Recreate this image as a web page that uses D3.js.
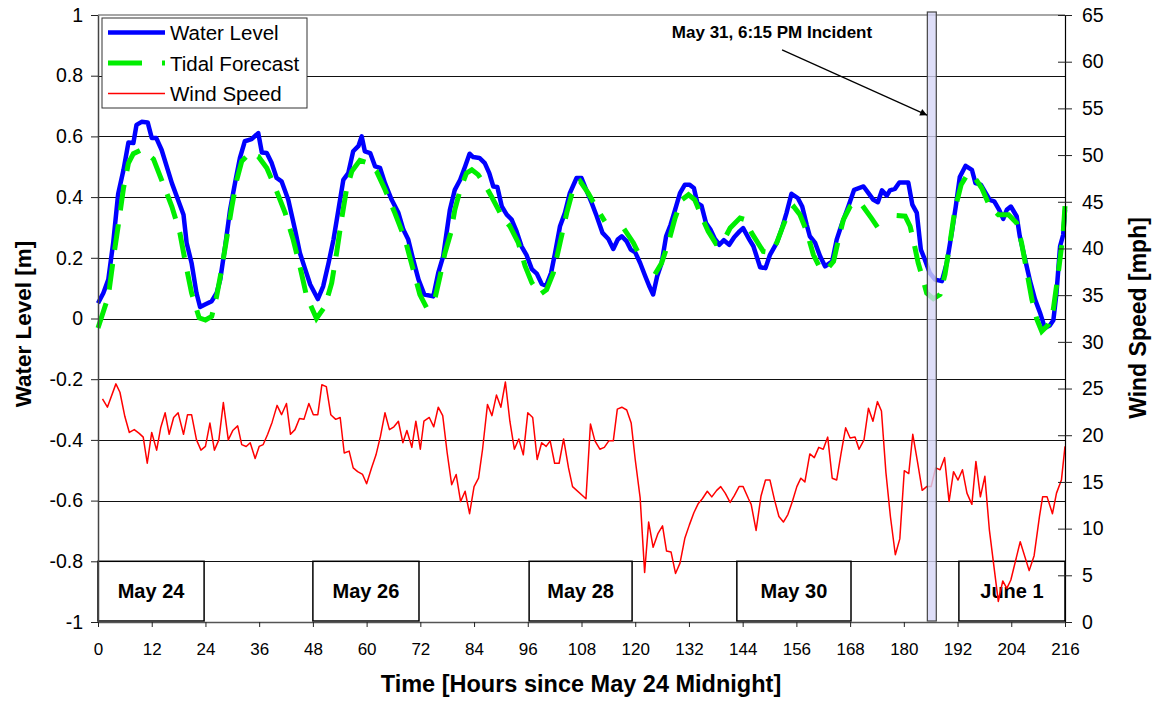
<!DOCTYPE html>
<html>
<head>
<meta charset="utf-8">
<script src="https://cdn.jsdelivr.net/npm/d3@7"></script>
<style>
  body { margin: 0; background: #fff; }
  svg { font-family: "Liberation Sans", Arial, sans-serif; }
</style>
</head>
<body>
<svg id="chart" width="1156" height="702"></svg>
<script>
// --- data (hours since May 24 midnight) ---
const waterLevel = [
  [0,0.05],[1.2,0.084],[2.3,0.128],[3.4,0.25],[4.5,0.41],[5.7,0.49],[6.8,0.58],[7.9,0.578],[8.6,0.638],[9.75,0.648],
  [11.1,0.646],[12,0.595],[13,0.595],[14.2,0.556],[16.5,0.446],[19.1,0.342],[19.8,0.249],[20.9,0.183],[22,0.084],[22.8,0.038],
  [23.9,0.046],[25.4,0.057],[26.5,0.084],[27.3,0.128],[28.4,0.238],[29.5,0.358],[30.6,0.446],[31.7,0.529],[32.8,0.584],[34.3,0.591],
  [35.8,0.611],[36.6,0.547],[37.7,0.545],[38.8,0.512],[39.9,0.463],[41,0.452],[42.5,0.391],[44,0.293],[45.1,0.216],[46.2,0.166],
  [47.4,0.112],[49.1,0.064],[50.3,0.106],[51.5,0.183],[52.6,0.26],[53.7,0.358],[54.8,0.457],[55.9,0.479],[57,0.551],[58.2,0.569],
  [58.9,0.6],[59.6,0.551],[60.8,0.545],[61.9,0.501],[63,0.496],[64.1,0.446],[65.6,0.391],[67.1,0.348],[68.2,0.293],[69.3,0.26],
  [70.4,0.194],[71.6,0.128],[72.9,0.079],[74.9,0.073],[76,0.15],[77.1,0.205],[78.6,0.358],[79.7,0.424],[80.9,0.457],[82,0.501],
  [83,0.543],[83.8,0.532],[85.2,0.529],[86.4,0.512],[87.4,0.479],[88.3,0.435],[89.2,0.433],[90.2,0.369],[91.3,0.342],[92.4,0.326],
  [93.5,0.287],[94.6,0.238],[95.7,0.21],[96.9,0.163],[98,0.148],[99.1,0.114],[100.1,0.108],[101.2,0.15],[102.1,0.216],[103.2,0.304],
  [104.3,0.348],[105.4,0.413],[106.9,0.463],[108,0.463],[109.2,0.419],[110.3,0.38],[111.4,0.337],[112.7,0.282],[114,0.262],[115.1,0.229],
  [116.1,0.26],[117,0.271],[118.1,0.254],[119,0.227],[120,0.218],[121.1,0.183],[122.2,0.141],[123.1,0.108],[124,0.079],[124.9,0.139],
  [125.9,0.183],[126.9,0.271],[127.9,0.309],[128.9,0.358],[130,0.413],[131.1,0.441],[132.1,0.441],[133.1,0.43],[133.9,0.38],[134.8,0.372],
  [135.8,0.315],[136.8,0.293],[137.8,0.262],[138.8,0.243],[139.8,0.258],[141,0.243],[142.1,0.268],[143.3,0.287],[144.1,0.298],[145.5,0.26],
  [146.4,0.238],[147.9,0.169],[149.1,0.166],[150.1,0.21],[151.6,0.249],[152.7,0.293],[153.8,0.348],[154.9,0.411],[156.3,0.397],[157.3,0.369],
  [158.3,0.309],[159,0.271],[160.2,0.249],[161.3,0.205],[162.4,0.172],[164,0.188],[165,0.26],[166.1,0.309],[167.6,0.369],[168.9,0.424],
  [171,0.435],[172.1,0.413],[173.2,0.391],[174.2,0.383],[175.1,0.422],[176.2,0.405],[176.9,0.422],[178,0.427],[179,0.448],[181,0.448],
  [181.9,0.375],[182.9,0.348],[183.8,0.227],[184.7,0.194],[185.8,0.15],[187,0.128],[188.5,0.123],[189.6,0.183],[190.7,0.282],[191.6,0.369],
  [192.5,0.466],[193.8,0.503],[195.2,0.49],[196,0.446],[197.2,0.441],[198.3,0.413],[199.2,0.391],[200.2,0.386],[201.3,0.358],[202.2,0.328],
  [203,0.358],[203.9,0.369],[205.2,0.337],[205.9,0.271],[207.1,0.194],[208.2,0.123],[209.3,0.063],[210.4,0.02],[211.5,-0.031],[212.6,-0.023],
  [213.4,-0.006],[214.1,0.084],[214.9,0.238],[215.6,0.276],[216,0.358]
];

// null entries are gaps in the forecast series
const tidalForecast = [
  [0,-0.031],[2.3,0.073],[3.4,0.194],[4.5,0.304],[5.7,0.43],[6.8,0.512],[7.9,0.543],[9.4,0.554],[10.9,0.545],[12.4,0.525],
  [14.2,0.457],[16.5,0.369],[18.3,0.281],[19.4,0.194],[20.9,0.084],[22.6,0.002],[24,-0.005],[25.4,0.007],[26.5,0.073],[27.6,0.161],
  [28.7,0.26],[29.9,0.369],[31,0.457],[32.1,0.518],[33.9,0.545],[35.8,0.534],[37.7,0.496],[39.5,0.435],[41.8,0.348],[43.6,0.26],
  [45.1,0.172],[46.6,0.073],[48.8,0.0],[50.7,0.04],[52.2,0.117],[53.3,0.216],[54.4,0.326],[55.5,0.425],[56.7,0.485],[58.5,0.521],
  [60.4,0.512],[62.2,0.485],[64.1,0.425],[66.3,0.348],[68.6,0.26],[70.4,0.161],[71.9,0.079],[73.4,0.036],[75.3,0.068],[76.4,0.139],
  [77.5,0.216],[78.8,0.282],[79.7,0.358],[80.9,0.424],[82.3,0.479],[83.5,0.49],[84.9,0.474],[86.4,0.441],[87.9,0.402],[90.2,0.337],
  [92,0.304],[93.9,0.249],[95.4,0.173],[96.9,0.118],[98.7,0.079],[100.2,0.095],[101.7,0.15],[103.2,0.249],[104.7,0.348],[106.2,0.43],
  [107.7,0.452],[109.5,0.413],[111.4,0.364],[113.2,0.32],null,[117.5,0.295],[119.6,0.249],[121.2,0.2],null,[124.4,0.146],
  [125.9,0.183],[127.4,0.249],[128.9,0.331],[130.4,0.391],[131.9,0.408],[133.3,0.391],[134.8,0.337],[136.3,0.287],[138,0.247],[139.5,0.25],
  [141.2,0.298],[143.4,0.331],[144.5,0.326],[146,0.282],[148.6,0.221],[150.1,0.218],[151.6,0.249],[152.7,0.293],[154.2,0.348],[155.5,0.367],
  [156.8,0.342],[158.3,0.287],[159.8,0.21],[161.3,0.166],[162.8,0.161],[164.3,0.188],[165.4,0.26],[166.5,0.326],[168,0.369],[169.5,0.385],
  [170.6,0.375],[172.8,0.33],[175,0.282],null,[178.4,0.339],[180.3,0.337],[181.4,0.304],[182.1,0.26],[183.2,0.183],[184.3,0.128],
  [185.1,0.084],[186.6,0.065],[188.1,0.079],[189.2,0.146],[190.3,0.249],[191.4,0.358],[192.8,0.441],[194.3,0.477],[195.9,0.463],[197.4,0.43],
  [199.2,0.369],[201.1,0.342],[203.4,0.342],[205.2,0.315],[206.3,0.249],[207.4,0.161],[208.6,0.063],[209.7,-0.002],[210.8,-0.042],[212.3,-0.02],
  [213.4,0.031],[214.5,0.15],[215.6,0.282],[216,0.37]
];

const windSpeed = [
  [1,23.9],[2.1,23.0],[4,25.5],[4.9,24.6],[6,22.0],[7,20.3],[8.1,20.6],[9.2,20.2],[10.1,19.8],[11,17.0],
  [12,20.3],[13.1,18.4],[14,20.8],[15,22.4],[15.9,20.1],[16.9,21.9],[17.9,22.4],[19.1,20.1],[20,22.2],[20.9,22.2],
  [22,19.5],[23,18.4],[24,18.8],[25,21.3],[26,18.4],[27,19.5],[28,23.5],[29.1,19.5],[30.1,20.5],[31.2,21.0],
  [32.1,19.0],[33.1,18.8],[34,19.2],[35.1,17.5],[36,18.8],[36.9,19.0],[37.9,20.1],[38.9,21.4],[40,23.2],[41,22.2],
  [42.1,23.4],[43,20.1],[44,20.6],[45,21.8],[46,21.7],[47.1,23.4],[48.1,22.2],[49.1,22.2],[50,25.4],[51,25.2],
  [52,22.2],[53.1,21.7],[54.1,21.9],[55,18.1],[56.1,18.3],[57,16.5],[58,16.1],[59.1,15.8],[60,14.8],[61.1,16.5],
  [62.1,17.9],[63.1,19.9],[64.1,22.4],[65.1,20.6],[66.1,20.9],[67.1,21.5],[68.1,19.2],[69,20.5],[70.1,18.7],[71,21.5],
  [72,18.5],[72.8,21.5],[74,21.9],[75,20.9],[76,23.0],[77,22.1],[78,18.1],[79,14.7],[80,15.8],[81,12.9],
  [82,14.0],[83,11.6],[84,14.5],[85,15.4],[85.9,18.5],[87,23.3],[88,22.1],[89,24.3],[90,23.0],[91,25.7],
  [92,21.5],[93,18.5],[94,19.6],[95,17.9],[96,22.4],[97.1,21.9],[98.1,17.4],[99.1,19.2],[100.1,18.8],[101,19.4],
  [102,17.0],[103,17.0],[104,19.6],[105.1,16.5],[106,14.5],[109,13.2],[110,21.2],[111,19.4],[112.1,18.5],[113.1,18.7],
  [114.1,19.4],[115.1,19.4],[116,22.8],[117,23.0],[118.1,22.7],[119.1,21.3],[120,17.4],[121.1,13.3],[122.1,5.3],[123,10.7],
  [124,8.0],[125.1,9.5],[126.1,10.3],[127,7.6],[128,7.5],[129,5.2],[130,6.3],[131.1,9.0],[132.1,10.4],[133.1,11.7],
  [134.1,12.7],[135,13.2],[136.1,14.0],[137.1,13.4],[138.2,14.1],[139.1,14.5],[140.1,13.8],[141.2,12.8],[142.1,13.5],[143.2,14.5],
  [144.1,14.5],[145.3,13.2],[145.9,12.6],[147,9.8],[148.1,13.5],[149.1,15.2],[150.1,15.2],[151.1,13.1],[152.1,11.3],[153.1,10.7],
  [154.1,11.5],[155.1,12.9],[156.1,14.5],[157,15.4],[157.9,15.0],[159,18.0],[160,17.6],[161,18.7],[162,18.5],[163,19.8],
  [164,15.4],[165,15.2],[166,18.1],[167,20.8],[168,19.7],[169.1,19.8],[170,18.5],[171.1,19.5],[172.1,22.9],[173.1,21.5],
  [174.1,23.6],[175,22.6],[176,16.0],[177,11.3],[178.1,7.2],[179.1,8.9],[180.1,16.2],[181.1,15.9],[182,20.1],[183.1,17.0],
  [184.1,14.1],[185.1,14.5],[186.1,14.5],[187.1,16.5],[188.1,16.3],[189.1,17.6],[190.1,12.9],[191.1,16.1],[192.1,15.2],[193.1,16.3],
  [194.1,13.8],[195.2,12.6],[196.1,17.2],[197.1,13.4],[198.1,15.6],[199.1,9.9],[201.1,2.2],[202.1,4.4],[203,3.6],[203.9,4.5],
  [206,8.6],[208,5.5],[209.1,7.1],[210.3,11.3],[211,13.4],[212,13.4],[213.2,11.6],[214.1,13.8],[215.2,15.2],[216,18.8]
];

const hourTicks = d3.range(0, 217, 12);
const levelTicks = [-1, -0.8, -0.6, -0.4, -0.2, 0, 0.2, 0.4, 0.6, 0.8, 1];
const windTicks = d3.range(0, 66, 5);

// date labels drawn as boxes along the bottom: [label, startHour, endHour]
const dayBoxes = [
  ["May 24", 0, 23.7], ["May 26", 48, 71.7], ["May 28", 96.3, 119.3],
  ["May 30", 142.7, 168.2], ["June 1", 192.3, 216]
];

const incidentHour = 186.25;   // May 31, 6:15 PM
const incidentLabel = "May 31, 6:15 PM Incident";
// arrow from the label toward the incident bar, in [hour, level]
const arrowFrom = [152.8, 0.885], arrowTo = [185.2, 0.67];

const legendItems = [
  { name: "Water Level", color: "#0000ff", width: 4.5, dash: null },
  { name: "Tidal Forecast", color: "#00ee00", width: 5, dash: "34,20" },
  { name: "Wind Speed", color: "#ff0000", width: 1.5, dash: null }
];

// --- scales ---
const svg = d3.select("#chart");
const x = d3.scaleLinear().domain([0, 216]).range([98, 1065]);
const yL = d3.scaleLinear().domain([-1, 1]).range([622, 15]);
const yR = d3.scaleLinear().domain([0, 65]).range([622, 15]);

svg.append("rect").attr("width", 1156).attr("height", 702).attr("fill", "#fff");

// gridlines
svg.append("g").selectAll("line")
  .data(levelTicks.filter(d => d > -1 && d < 1))
  .join("line")
  .attr("x1", x(0)).attr("x2", x(216))
  .attr("y1", d => Math.round(yL(d)) + 0.5).attr("y2", d => Math.round(yL(d)) + 0.5)
  .attr("stroke", "#111").attr("stroke-width", 1);

// top border
svg.append("line")
  .attr("x1", x(0)).attr("x2", x(216))
  .attr("y1", yL(1)).attr("y2", yL(1))
  .attr("stroke", "#888").attr("stroke-width", 1.5);

// day boxes (under the series, the wind line runs across them)
const boxes = svg.append("g").selectAll("g").data(dayBoxes).join("g");
boxes.append("rect")
  .attr("x", d => x(d[1])).attr("width", d => x(d[2]) - x(d[1]))
  .attr("y", yL(-0.8)).attr("height", yL(-1) - yL(-0.8) - 1)
  .attr("fill", "#fff").attr("stroke", "#000").attr("stroke-width", 1.5);
boxes.append("text")
  .attr("x", d => (x(d[1]) + x(d[2])) / 2).attr("y", 598)
  .attr("text-anchor", "middle").attr("font-weight", "bold").attr("font-size", 20)
  .text(d => d[0]);

// series
const lineW = d3.line().x(d => x(d[0])).y(d => yL(d[1]));
const lineT = d3.line().defined(d => d !== null).x(d => x(d[0])).y(d => yL(d[1]));
const lineWind = d3.line().x(d => x(d[0])).y(d => yR(d[1]));

svg.append("path").datum(windSpeed)
  .attr("d", lineWind).attr("fill", "none")
  .attr("stroke", "#ff0000").attr("stroke-width", 1.5).attr("stroke-linejoin", "round");

svg.append("path").datum(waterLevel)
  .attr("d", lineW).attr("fill", "none")
  .attr("stroke", "#0000ff").attr("stroke-width", 4.5).attr("stroke-linejoin", "round");

svg.append("path").datum(tidalForecast)
  .attr("d", lineT).attr("fill", "none")
  .attr("stroke", "#00ee00").attr("stroke-width", 5)
  .attr("stroke-dasharray", "26,14");

// incident bar
svg.append("rect")
  .attr("x", x(incidentHour - 1)).attr("width", x(incidentHour + 1) - x(incidentHour - 1))
  .attr("y", 12).attr("height", 609)
  .attr("fill", "#d6d6f6").attr("fill-opacity", 0.8)
  .attr("stroke", "#444").attr("stroke-width", 1.2);

// annotation
svg.append("defs").append("marker")
  .attr("id", "arrow").attr("viewBox", "0 -5 10 10")
  .attr("refX", 10).attr("refY", 0)
  .attr("markerWidth", 10).attr("markerHeight", 7)
  .attr("markerUnits", "userSpaceOnUse")
  .attr("orient", "auto")
  .append("path").attr("d", "M0,-5L10,0L0,5Z").attr("fill", "#000");

svg.append("line")
  .attr("x1", x(arrowFrom[0])).attr("y1", yL(arrowFrom[1]))
  .attr("x2", x(arrowTo[0])).attr("y2", yL(arrowTo[1]))
  .attr("stroke", "#000").attr("stroke-width", 1.2)
  .attr("marker-end", "url(#arrow)");

svg.append("text")
  .attr("x", 772).attr("y", 38)
  .attr("text-anchor", "middle").attr("font-weight", "bold").attr("font-size", 17)
  .text(incidentLabel);

// axes
const fmt = d => String(+d.toFixed(1));

const axL = svg.append("g").attr("transform", `translate(${x(0)},0)`)
  .call(d3.axisLeft(yL).tickValues(levelTicks).tickFormat(fmt).tickSize(7).tickPadding(8).tickSizeOuter(0));
const axR = svg.append("g").attr("transform", `translate(${x(216)},0)`)
  .call(d3.axisRight(yR).tickValues(windTicks).tickSize(7).tickPadding(10).tickSizeOuter(0));
axR.selectAll(".tick line").attr("x1", -7);
const axB = svg.append("g").attr("transform", `translate(0,${yL(-1)})`)
  .call(d3.axisBottom(x).tickValues(hourTicks).tickSize(5).tickPadding(16).tickSizeOuter(0));

[axL, axR].forEach(a => a.selectAll("text").attr("font-size", 19.5).attr("fill", "#000"));
axB.selectAll("text").attr("font-size", 17).attr("fill", "#000");
[axL, axR, axB].forEach(a => {
  a.attr("font-family", null);
  a.selectAll(".tick line").attr("stroke", "#222");
});
axL.select(".domain").attr("stroke", "#444").attr("stroke-width", 1.5);
axB.select(".domain").attr("stroke", "#555").attr("stroke-width", 1.5);
axR.select(".domain").attr("stroke", "#000").attr("stroke-width", 1.2);

// axis titles
svg.append("text")
  .attr("x", 581).attr("y", 692).attr("text-anchor", "middle")
  .attr("font-weight", "bold").attr("font-size", 23.5)
  .text("Time [Hours since May 24 Midnight]");
svg.append("text")
  .attr("transform", "translate(31,324) rotate(-90)").attr("text-anchor", "middle")
  .attr("font-weight", "bold").attr("font-size", 22.5)
  .text("Water Level [m]");
svg.append("text")
  .attr("transform", "translate(1146,318) rotate(-90)").attr("text-anchor", "middle")
  .attr("font-weight", "bold").attr("font-size", 23)
  .text("Wind Speed [mph]");

// legend
const legend = svg.append("g").attr("transform", "translate(102,18)");
legend.append("rect").attr("width", 205).attr("height", 90)
  .attr("fill", "#fff").attr("stroke", "#333").attr("stroke-width", 1);
const li = legend.selectAll("g.item").data(legendItems).join("g")
  .attr("class", "item")
  .attr("transform", (d, i) => `translate(0,${14.5 + i * 30.5})`);
li.append("line")
  .attr("x1", 6).attr("x2", 63)
  .attr("stroke", d => d.color).attr("stroke-width", d => d.width)
  .attr("stroke-dasharray", d => d.dash);
li.append("text").attr("x", 68).attr("y", 7.5)
  .attr("font-size", 20.5).text(d => d.name);
</script>
</body>
</html>
